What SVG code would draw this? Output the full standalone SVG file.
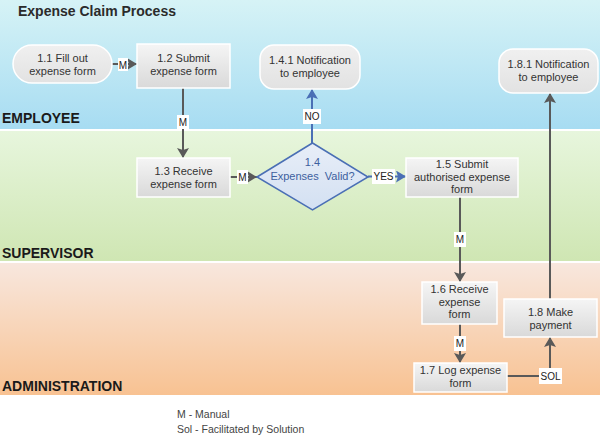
<svg xmlns="http://www.w3.org/2000/svg" width="600" height="447" viewBox="0 0 600 447">
<defs>
<linearGradient id="gEmp" x1="0" y1="0" x2="0" y2="1"><stop offset="0" stop-color="#d6f3f6"/><stop offset="1" stop-color="#a7dcf2"/></linearGradient>
<linearGradient id="gSup" x1="0" y1="0" x2="0" y2="1"><stop offset="0" stop-color="#e7f6dd"/><stop offset="1" stop-color="#cfe6b3"/></linearGradient>
<linearGradient id="gAdm" x1="0" y1="0" x2="0" y2="1"><stop offset="0" stop-color="#f8e7de"/><stop offset="1" stop-color="#f8c292"/></linearGradient>
<linearGradient id="gBox" x1="0" y1="0" x2="0" y2="1"><stop offset="0" stop-color="#f5f5f5"/><stop offset="1" stop-color="#d9d9d9"/></linearGradient>
<linearGradient id="gPill" x1="0" y1="0" x2="0" y2="1"><stop offset="0" stop-color="#f0f0f0"/><stop offset="1" stop-color="#e2e2e2"/></linearGradient>
<linearGradient id="gDia" x1="0" y1="0" x2="0" y2="1"><stop offset="0" stop-color="#e8eef8"/><stop offset="1" stop-color="#d3e0f2"/></linearGradient>
<marker id="aGray" viewBox="0 0 10 12" refX="10" refY="6" markerWidth="10" markerHeight="12" markerUnits="userSpaceOnUse" orient="auto"><path d="M0,0 L10,6 L0,12 L2,6 z" fill="#595959"/></marker>
<marker id="aBlue" viewBox="0 0 10 12" refX="10" refY="6" markerWidth="10" markerHeight="12" markerUnits="userSpaceOnUse" orient="auto"><path d="M0,0 L10,6 L0,12 L2,6 z" fill="#4a6fb5"/></marker>
<style>
text{font-family:"Liberation Sans",Arial,sans-serif;}
.nt{font-size:11px;fill:#333;text-anchor:middle;}
.lane{font-size:14px;font-weight:bold;fill:#1a1a1a;}
.box{fill:url(#gBox);stroke:#ffffff;stroke-width:1.5;}
.pill{fill:url(#gPill);stroke:#ffffff;stroke-width:1.5;}
.c{fill:none;stroke:#595959;stroke-width:2;}
.cb{fill:none;stroke:#4a6fb5;stroke-width:2;}
.lb{fill:#ffffff;}
.lt{font-size:10px;fill:#222;text-anchor:middle;}
.lg{font-size:10.5px;fill:#444;}
</style>
</defs>
<rect x="0" y="0" width="600" height="447" fill="#ffffff"/>
<g id="lanes">
<rect x="0" y="0" width="600" height="129" fill="url(#gEmp)"/>
<rect x="0" y="131" width="600" height="130" fill="url(#gSup)"/>
<rect x="0" y="263" width="600" height="132" fill="url(#gAdm)"/>
<text x="18" y="16" font-size="14" font-weight="bold" fill="#2b2b2b">Expense Claim Process</text>
<text class="lane" x="2" y="123">EMPLOYEE</text>
<text class="lane" x="2" y="258">SUPERVISOR</text>
<text class="lane" x="2" y="391">ADMINISTRATION</text>
</g>
<g id="connectors">
<line class="c" x1="112" y1="64" x2="137" y2="64" marker-end="url(#aGray)"/>
<rect class="lb" x="118" y="58" width="10" height="13"/><text class="lt" x="123" y="68.5">M</text>
<line class="c" x1="183" y1="88" x2="183" y2="158" marker-end="url(#aGray)"/>
<rect class="lb" x="177" y="115" width="12" height="14"/><text class="lt" x="183" y="126">M</text>
<line class="c" x1="230" y1="177" x2="257" y2="177" marker-end="url(#aGray)"/>
<rect class="lb" x="237" y="170" width="11" height="14"/><text class="lt" x="242.5" y="181">M</text>
<line class="cb" x1="312" y1="143" x2="312" y2="89" marker-end="url(#aBlue)"/>
<rect class="lb" x="303" y="109" width="18" height="15"/><text class="lt" x="312" y="120">NO</text>
<line class="cb" x1="368" y1="176.5" x2="406" y2="176.5" marker-end="url(#aBlue)"/>
<rect class="lb" x="372" y="169" width="23" height="15"/><text class="lt" x="383.5" y="180">YES</text>
<line class="c" x1="460" y1="197" x2="460" y2="282" marker-end="url(#aGray)"/>
<rect class="lb" x="454" y="232" width="12" height="15"/><text class="lt" x="460" y="243">M</text>
<line class="c" x1="460" y1="324" x2="460" y2="363" marker-end="url(#aGray)"/>
<rect class="lb" x="454" y="336" width="12" height="15"/><text class="lt" x="460" y="347">M</text>
<polyline class="c" points="507,376 550,376 550,337" marker-end="url(#aGray)"/>
<rect class="lb" x="539" y="368" width="23" height="16"/><text class="lt" x="550.5" y="380">SOL</text>
<line class="c" x1="550" y1="299" x2="550" y2="93" marker-end="url(#aGray)"/>
</g>
<g id="n1_1">
<rect class="pill" x="13" y="45" width="99" height="38" rx="19"/>
<text class="nt" x="62.5" y="62">1.1 Fill out</text><text class="nt" x="62.5" y="75">expense form</text>
</g>
<g id="n1_2">
<rect class="box" x="137" y="44" width="93" height="44"/>
<text class="nt" x="183.5" y="62">1.2 Submit</text><text class="nt" x="183.5" y="75">expense form</text>
</g>
<g id="n1_3">
<rect class="box" x="137" y="158" width="93" height="39"/>
<text class="nt" x="183.5" y="175">1.3 Receive</text><text class="nt" x="183.5" y="188">expense form</text>
</g>
<g id="n1_4">
<polygon points="257,177 312.5,143 368,177 312.5,210" fill="url(#gDia)" stroke="#4a6fb5" stroke-width="1.5"/>
<text class="nt" x="312.5" y="166" style="fill:#3d5f9e">1.4</text><text class="nt" x="312.5" y="180" style="fill:#3d5f9e" xml:space="preserve">Expenses  Valid?</text>
</g>
<g id="n1_4_1">
<rect class="pill" x="260" y="45" width="100" height="44" rx="14"/>
<text class="nt" x="310" y="64">1.4.1 Notification</text><text class="nt" x="310" y="77">to employee</text>
</g>
<g id="n1_5">
<rect class="box" x="406" y="158" width="112" height="39"/>
<text class="nt" x="462" y="168">1.5 Submit</text><text class="nt" x="462" y="181">authorised expense</text><text class="nt" x="462" y="193">form</text>
</g>
<g id="n1_6">
<rect class="box" x="422" y="282" width="75" height="42"/>
<text class="nt" x="459.5" y="293">1.6 Receive</text><text class="nt" x="459.5" y="306">expense</text><text class="nt" x="459.5" y="318">form</text>
</g>
<g id="n1_7">
<rect class="box" x="414" y="363" width="93" height="29"/>
<text class="nt" x="460.5" y="374">1.7 Log expense</text><text class="nt" x="460.5" y="387">form</text>
</g>
<g id="n1_8">
<rect class="box" x="504" y="299" width="93" height="38"/>
<text class="nt" x="550.5" y="316">1.8 Make</text><text class="nt" x="550.5" y="329">payment</text>
</g>
<g id="n1_8_1">
<rect class="pill" x="499" y="49" width="99" height="44" rx="14"/>
<text class="nt" x="548.5" y="68">1.8.1 Notification</text><text class="nt" x="548.5" y="81">to employee</text>
</g>
<g id="legend">
<text class="lg" x="177" y="418">M - Manual</text>
<text class="lg" x="177" y="433">Sol - Facilitated by Solution</text>
</g>
</svg>
